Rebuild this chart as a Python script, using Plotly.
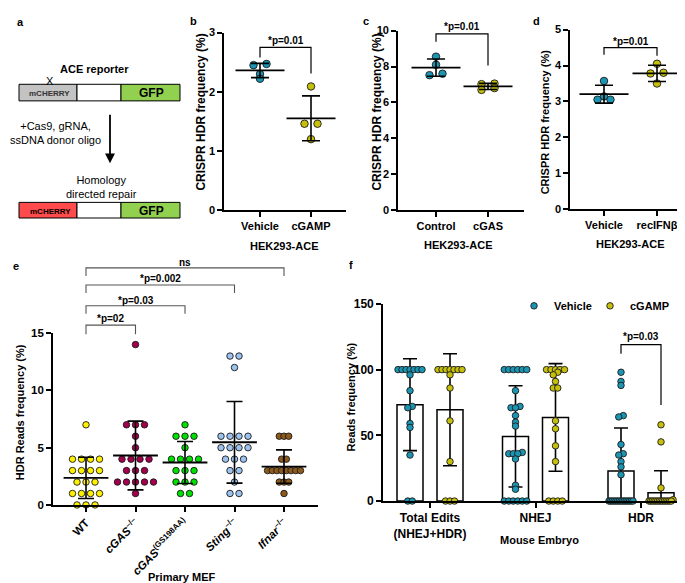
import statistics
import plotly.graph_objects as go

W, H = 685, 583
FONT = 'Liberation Sans, Arial, sans-serif'

# colours
VEHICLE = '#1C95B2'
CGAMP = '#C6BF0C'
E_COLORS = ['#FFF000', '#A2004C', '#00E000', '#9CC3EF', '#8C5A1C']

# ---- panels b-d: CRISPR HDR frequency (%) in HEK293-ACE ----
b_labels = ['Vehicle', 'cGAMP']
b_vehicle = [2.47, 2.45, 2.30, 2.22]
b_cgamp = [2.09, 1.46, 1.46, 1.20]

c_labels = ['Control', 'cGAS']
c_control = [8.55, 8.10, 7.60, 7.52]
c_cgas = [7.05, 7.02, 6.80, 6.70]

d_labels = ['Vehicle', 'recIFNβ']
d_vehicle = [3.57, 3.14, 3.05, 3.05]
d_recifn = [4.05, 3.80, 3.78, 3.50]

# ---- panel e: HDR reads frequency (%), primary MEF ----
e_labels = ['WT', '<i>cGAS</i><sup>–/–</sup>', '<i>cGAS</i><sup>(GS198AA)</sup>',
            '<i>Sting</i><sup>–/–</sup>', '<i>Ifnar</i><sup>–/–</sup>']
e_wt = [7, 4, 4, 4, 4, 3, 3, 3, 3, 2, 2, 2, 1, 1, 1, 1, 0, 0, 0]
e_cgas_ko = [14, 7, 7, 7, 6, 5, 4, 4, 4, 4, 3, 3, 3, 2, 2, 2, 2, 2, 1]
e_cgas_mut = [7, 6, 6, 6, 5, 4, 4, 4, 4, 3, 3, 3, 2, 2, 2, 1, 1]
e_sting = [13, 13, 12, 6, 6, 6, 6, 5, 5, 5, 5, 4, 4, 4, 3, 3, 2, 1, 1]
e_ifnar = [6, 6, 6, 4, 4, 3, 3, 3, 3, 3, 3, 3, 3, 2, 2, 2, 1]

# ---- panel f: reads frequency (%), mouse embryo ----
f_labels = ['Total Edits<br>(NHEJ+HDR)', 'NHEJ', 'HDR']
f_total_vehicle = [100, 100, 100, 100, 100, 100, 100, 96, 84, 72, 71, 59, 56, 35, 0, 0]
f_total_cgamp = [100, 100, 100, 100, 100, 100, 100, 96, 86, 61, 30, 0, 0, 0]
f_nhej_vehicle = [100, 100, 100, 100, 100, 100, 84, 72, 71, 71, 65, 60, 57, 37, 36, 36, 36,
                  32, 12, 9, 0, 0, 0, 0, 0, 0]
f_nhej_cgamp = [100, 100, 100, 100, 100, 98, 96, 91, 86, 86, 61, 55, 42, 30, 0, 0, 0, 0]
f_hdr_vehicle = [98, 91, 88, 65, 64, 43, 36, 35, 30, 26, 20, 0, 0, 0, 0, 0, 0, 0, 0, 0,
                 0, 0, 0, 0, 0, 0]
f_hdr_cgamp = [58, 45, 10, 1, 0, 0, 0, 0, 0, 0, 0, 0, 0, 0, 0, 0, 0, 0]

# panel geometry in pixels (left/right/top/bottom of the axes, first category, px per category)
geo = {
    'b': dict(x='x', y='y', left=216, right=338, top=18, bottom=200, c0=252, step=51, ymax=3, dtick=1),
    'c': dict(x='x2', y='y2', left=390, right=516, top=16, bottom=200, c0=428, step=52, ymax=10, dtick=2),
    'd': dict(x='x3', y='y3', left=562, right=684, top=15, bottom=199, c0=596, step=53, ymax=5, dtick=1),
    'e': dict(x='x4', y='y4', left=45, right=310, top=326, bottom=502, c0=78, step=49.5, ymax=15, dtick=5),
    'f': dict(x='x5', y='y5', left=375, right=678, top=296, bottom=498, c0=422, step=105.5, ymax=150, dtick=50),
}
for g in geo.values():
    g['ppy'] = (g['bottom'] - g['top']) / g['ymax']


def swarm(vals, ppu, sp, tol, maxw=None):
    # horizontal px offsets: values closer than tol px share a row, row is centred
    order = sorted(range(len(vals)), key=lambda i: vals[i])
    rows = [[order[0]]]
    for i in order[1:]:
        if (vals[i] - vals[rows[-1][0]]) * ppu < tol:
            rows[-1].append(i)
        else:
            rows.append([i])
    offs = [0.0] * len(vals)
    for r in rows:
        n = len(r)
        s = sp if (not maxw or n < 2) else min(sp, maxw / (n - 1))
        for j, i in enumerate(r):
            offs[i] = (j - (n - 1) / 2) * s
    return offs


def dots(groups, g, colors, size, sp, tol, maxw=None, shift=0.0, **kw):
    if not isinstance(sp, list):
        sp = [sp] * len(groups)
    xs, ys, cols = [], [], []
    for k, vals in enumerate(groups):
        offs = swarm(vals, g['ppy'], sp[k], tol, maxw)
        xs += [k + shift + o / g['step'] for o in offs]
        ys += vals
        cols += [colors[k]] * len(vals)
    return go.Scatter(x=xs, y=ys, mode='markers', xaxis=g['x'], yaxis=g['y'],
                      marker=dict(size=size, color=cols, line=dict(width=0.9, color='#1a1a1a')),
                      cliponaxis=False, hoverinfo='y', **kw)


def mean_sd(groups, g, linew, cap):
    return go.Scatter(x=list(range(len(groups))), y=[statistics.mean(v) for v in groups],
                      mode='markers', xaxis=g['x'], yaxis=g['y'], showlegend=False,
                      marker=dict(symbol='line-ew', size=linew, line=dict(width=1.8, color='black')),
                      error_y=dict(type='data', array=[statistics.stdev(v) for v in groups],
                                   width=cap, thickness=1.6, color='black'),
                      hoverinfo='skip')


fig = go.Figure()

# b-d dot plots
for key, groups in [('b', [b_vehicle, b_cgamp]), ('c', [c_control, c_cgas]), ('d', [d_vehicle, d_recifn])]:
    g = geo[key]
    fig.add_trace(dots(groups, g, [VEHICLE, CGAMP], 7.5, 13, 3, showlegend=False))
    fig.add_trace(mean_sd(groups, g, 35, 9))

# e dot plot (Ifnar points pack tighter)
e_groups = [e_wt, e_cgas_ko, e_cgas_mut, e_sting, e_ifnar]
g = geo['e']
fig.add_trace(dots(e_groups, g, E_COLORS, 6.5, [9, 9, 9, 9, 4.7], 1, showlegend=False))
fig.add_trace(mean_sd(e_groups, g, 32, 8))

# f bars + dots
g = geo['f']
f_off = 20 / g['step']
f_sets = [('Vehicle', VEHICLE, [f_total_vehicle, f_nhej_vehicle, f_hdr_vehicle], -f_off),
          ('cGAMP', CGAMP, [f_total_cgamp, f_nhej_cgamp, f_hdr_cgamp], f_off)]
for name, col, groups, off in f_sets:
    fig.add_trace(go.Bar(x=[k + off for k in range(3)], y=[statistics.mean(v) for v in groups],
                         width=26 / g['step'], xaxis=g['x'], yaxis=g['y'], showlegend=False,
                         marker=dict(color='white', line=dict(color='black', width=1.5)),
                         error_y=dict(type='data', array=[statistics.stdev(v) for v in groups],
                                      width=7, thickness=1.6, color='black'),
                         hoverinfo='skip'))
for name, col, groups, off in f_sets:
    fig.add_trace(dots(groups, g, [col] * 3, 6.5, 4.5, 3, maxw=24, shift=off, name=name,
                       legend='legend' if name == 'Vehicle' else 'legend2'))

# axes
axis_style = dict(showline=True, linecolor='black', linewidth=1.6, ticks='outside', ticklen=5,
                  tickwidth=1.6, tickcolor='black', showgrid=False, zeroline=False)
layout_axes = {}
tick_labels = {'b': b_labels, 'c': c_labels, 'd': d_labels, 'e': e_labels, 'f': f_labels}
for key, g in geo.items():
    fs = 12 if key in 'ef' else 11
    tf = dict(family=FONT, size=fs, color='black', weight='bold')
    xn = 'xaxis' + g['x'][1:]
    yn = 'yaxis' + g['y'][1:]
    layout_axes[xn] = dict(domain=[g['left'] / W, g['right'] / W], anchor=g['y'],
                           range=[(g['left'] - g['c0']) / g['step'], (g['right'] - g['c0']) / g['step']],
                           tickvals=list(range(len(tick_labels[key]))), ticktext=tick_labels[key],
                           tickfont=tf, **axis_style)
    layout_axes[yn] = dict(domain=[1 - g['bottom'] / H, 1 - g['top'] / H], anchor=g['x'],
                           range=[0, g['ymax']], dtick=g['dtick'], tickfont=tf, **axis_style)
layout_axes['xaxis4']['tickangle'] = -45
layout_axes['xaxis4']['tickfont']['size'] = 11.5
fig.update_layout(**layout_axes)


def note(text, x, y, size=11, bold=True, angle=0, color='black', **kw):
    return dict(text=text, x=x / W, y=1 - y / H, xref='paper', yref='paper', showarrow=False,
                font=dict(family=FONT, size=size, color=color, weight='bold' if bold else 'normal'),
                textangle=angle, xanchor='center', yanchor='middle', **kw)


annotations = []
shapes = []

# significance brackets: (panel, from, to, top, left leg, right leg, text y, text)
brackets = [
    ('b', 0, 1, 2.75, 2.58, 2.31, 2.87, '*p=0.01'),
    ('c', 0, 1, 9.82, 9.38, 8.06, 10.25, '*p=0.01'),
    ('d', 0, 1, 4.50, 4.30, 4.27, 4.68, '*p=0.01'),
    ('e', 0, 1, 15.7, 14.9, 14.9, 16.25, '*p=02'),
    ('e', 0, 2, 17.4, 16.7, 16.7, 17.85, '*p=0.03'),
    ('e', 0, 3, 19.2, 18.5, 18.5, 19.75, '*p=0.002'),
    ('e', 0, 4, 20.7, 20.0, 20.0, 21.15, 'ns'),
    ('f', 2 - f_off, 2 + f_off, 119, 112, 73, 125, '*p=0.03'),
]
for key, x0, x1, top, l0, l1, ty, txt in brackets:
    g = geo[key]
    sc = 1 / g['ymax']
    col, lw = ('#555555', 1.1) if key == 'e' else ('black', 1.2)
    # placed in domain units so brackets above the axis range still show
    shapes.append(dict(type='path', xref=g['x'], yref=g['y'] + ' domain', line=dict(color=col, width=lw),
                       path=f'M {x0},{l0 * sc} L {x0},{top * sc} L {x1},{top * sc} L {x1},{l1 * sc}'))
    annotations.append(dict(text=txt, x=(x0 + x1) / 2, xref=g['x'],
                            y=1 - (g['bottom'] - ty * g['ppy']) / H, yref='paper', showarrow=False,
                            font=dict(family=FONT, size=10, color='black', weight='bold'),
                            xanchor='center', yanchor='middle'))

# axis titles and panel labels
annotations += [
    note('CRISPR HDR frequency (%)', 193, 100, size=12, angle=-90),
    note('CRISPR HDR frequency (%)', 369, 100, size=12, angle=-90),
    note('CRISPR HDR frequency (%)', 537, 110, angle=-90),
    note('HDR Reads frequency (%)', 12, 407, angle=-90),
    note('Reads frequency (%)', 343, 392, angle=-90),
    note('HEK293-ACE', 276, 237),
    note('HEK293-ACE', 450, 236),
    note('HEK293-ACE', 622, 235),
    note('Primary MEF', 174, 576),
    note('Mouse Embryo', 531, 538),
    note('a', 12, 7), note('b', 185, 6), note('c', 358, 6), note('d', 528, 6),
    note('e', 8, 257), note('f', 343, 256),
]

# panel a: ACE reporter schematic
for y0, y1, first in [(71, 88, '#C3C3C3'), (192, 208, '#FF4B4B')]:
    for x0, x1, col in [(11, 69, first), (69, 113, 'white'), (113, 172, '#92D050')]:
        shapes.append(dict(type='rect', xref='paper', yref='paper', x0=x0 / W, x1=x1 / W,
                           y0=1 - y1 / H, y1=1 - y0 / H, fillcolor=col, line=dict(color='black', width=1)))
annotations += [
    note('ACE reporter', 86, 55),
    note('X', 42, 68, size=11, bold=False),
    note('mCHERRY', 41, 80, size=8, color='#333333'),
    note('GFP', 143, 80, size=12),
    note('+Cas9, gRNA,<br>ssDNA donor oligo', 47, 121, bold=False),
    note('Homology<br>directed repair', 93, 176, bold=False),
    note('mCHERRY', 42, 201, size=8),
    note('GFP', 143, 201, size=12),
    dict(text='', x=102 / W, y=1 - 152 / H, xref='paper', yref='paper', showarrow=True,
         ax=0, ay=-50, arrowhead=2, arrowsize=1.1, arrowwidth=1.8, arrowcolor='black', standoff=0),
]

leg = dict(xanchor='left', yanchor='middle', bgcolor='rgba(0,0,0,0)', itemwidth=30,
           font=dict(family=FONT, size=11, color='black', weight='bold'))
fig.update_layout(
    width=W, height=H, margin=dict(l=0, r=0, t=0, b=0),
    paper_bgcolor='white', plot_bgcolor='white',
    font=dict(family=FONT, color='black'),
    barmode='overlay', showlegend=True,
    legend=dict(x=506 / W, y=1 - 298 / H, **leg),
    legend2=dict(x=582 / W, y=1 - 298 / H, **leg),
    annotations=annotations, shapes=shapes,
)

fig.write_html('out.html')
